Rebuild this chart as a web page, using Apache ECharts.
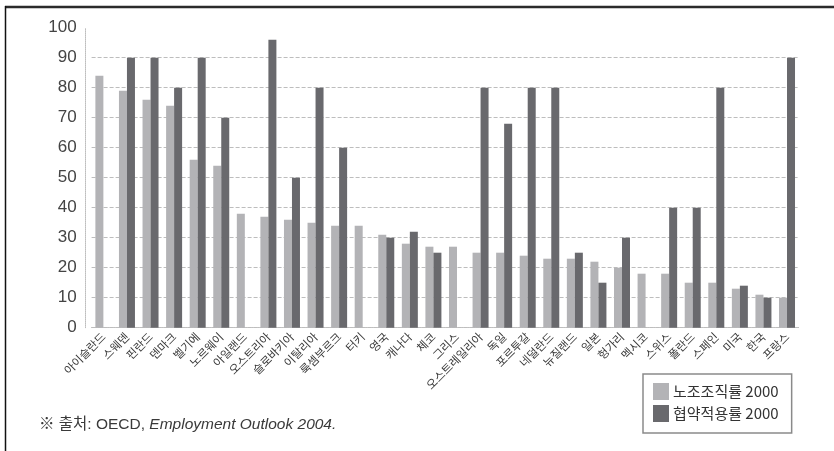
<!DOCTYPE html>
<html>
<head>
<meta charset="utf-8">
<script src="https://cdn.jsdelivr.net/npm/echarts@6/dist/echarts.min.js"></script>
<style>html,body{margin:0;padding:0;background:#fff;}#c{width:834px;height:451px;}</style>
</head>
<body>
<div id="c"></div>
<script>
const categories = ['아이슬란드','스웨덴','핀란드','덴마크','벨기에','노르웨이','아일랜드','오스트리아','슬로바키아','이탈리아','룩셈부르크','터키','영국','캐나다','체코','그리스','오스트레일리아','독일','포르투갈','네덜란드','뉴질랜드','일본','헝가리','멕시코','스위스','폴란드','스페인','미국','한국','프랑스'];
const unionDensity = [84,79,76,74,56,54,38,37,36,35,34,34,31,28,27,27,25,25,24,23,23,22,20,18,18,15,15,13,11,10];
const coverage = [null,90,90,80,90,70,null,96,50,80,60,null,30,32,25,null,80,68,80,80,25,15,30,null,40,40,80,14,10,90];
const yTicks = [0,10,20,30,40,50,60,70,80,90,100];
const seriesNames = ['노조조직률 2000','협약적용률 2000'];

const FONT = '"Liberation Sans", "Noto Sans CJK KR", sans-serif';
const KFONT = '"Noto Sans CJK KR", "Liberation Sans", sans-serif';
const grid = '#bdbdbd';
const splitColors = yTicks.map((t, i) => i === yTicks.length - 1 ? 'rgba(0,0,0,0)' : grid);

const chart = echarts.init(document.getElementById('c'), null, {renderer: 'canvas'});
chart.setOption({
  animation: false,
  backgroundColor: '#fff',
  title: {
    left: 34, top: 412,
    text: '{a|※ 출처: OECD, }{b|Employment Outlook 2004.}',
    textStyle: {
      fontWeight: 'normal',
      rich: {
        a: {fontFamily: FONT, fontSize: 15.5, color: '#3a3a3a', fontWeight: 'normal'},
        b: {fontFamily: FONT, fontSize: 15.5, color: '#3a3a3a', fontStyle: 'italic', fontWeight: 'normal'}
      }
    }
  },
  grid: {left: 91.6, right: 35.2, top: 27.7, bottom: 123.3},
  legend: {
    orient: 'vertical',
    left: 643, top: 374,
    padding: [9, 13, 11, 10],
    itemWidth: 16, itemHeight: 17, itemGap: 5,
    borderColor: '#8a8a8a', borderWidth: 1.5,
    icon: 'rect',
    textStyle: {fontFamily: KFONT, fontSize: 15, color: '#333', padding: [0,0,0,-1]},
    data: seriesNames
  },
  xAxis: {
    type: 'category',
    data: categories,
    axisTick: {show: false},
    axisLine: {lineStyle: {color: grid, type: 'dotted', width: 1}},
    axisLabel: {interval: 0, rotate: 45, fontFamily: KFONT, fontSize: 11.5, color: '#3a3a3a', margin: 7}
  },
  yAxis: {
    type: 'value',
    min: 0, max: 100, interval: 10,
    offset: 6,
    axisLine: {show: true, lineStyle: {color: grid, type: 'dotted', width: 1}},
    axisTick: {show: false},
    axisLabel: {fontFamily: FONT, fontSize: 17, color: '#444', margin: 9},
    splitLine: {show: true, lineStyle: {color: splitColors, type: 'dashed', width: 1}}
  },
  series: [
    {name: seriesNames[0], type: 'bar', data: unionDensity, barWidth: 8, barGap: '0%', itemStyle: {color: '#b3b3b6'}},
    {name: seriesNames[1], type: 'bar', data: coverage, barWidth: 8, barGap: '0%', itemStyle: {color: '#69696d'}}
  ],
  graphic: [
    {type: 'line', shape: {x1: 5, y1: 7, x2: 834, y2: 7}, style: {stroke: '#2b2b2b', lineWidth: 2.5}},
    {type: 'line', shape: {x1: 5.5, y1: 6, x2: 5.5, y2: 451}, style: {stroke: '#111', lineWidth: 1.5}}
  ]
});
</script>
</body>
</html>
